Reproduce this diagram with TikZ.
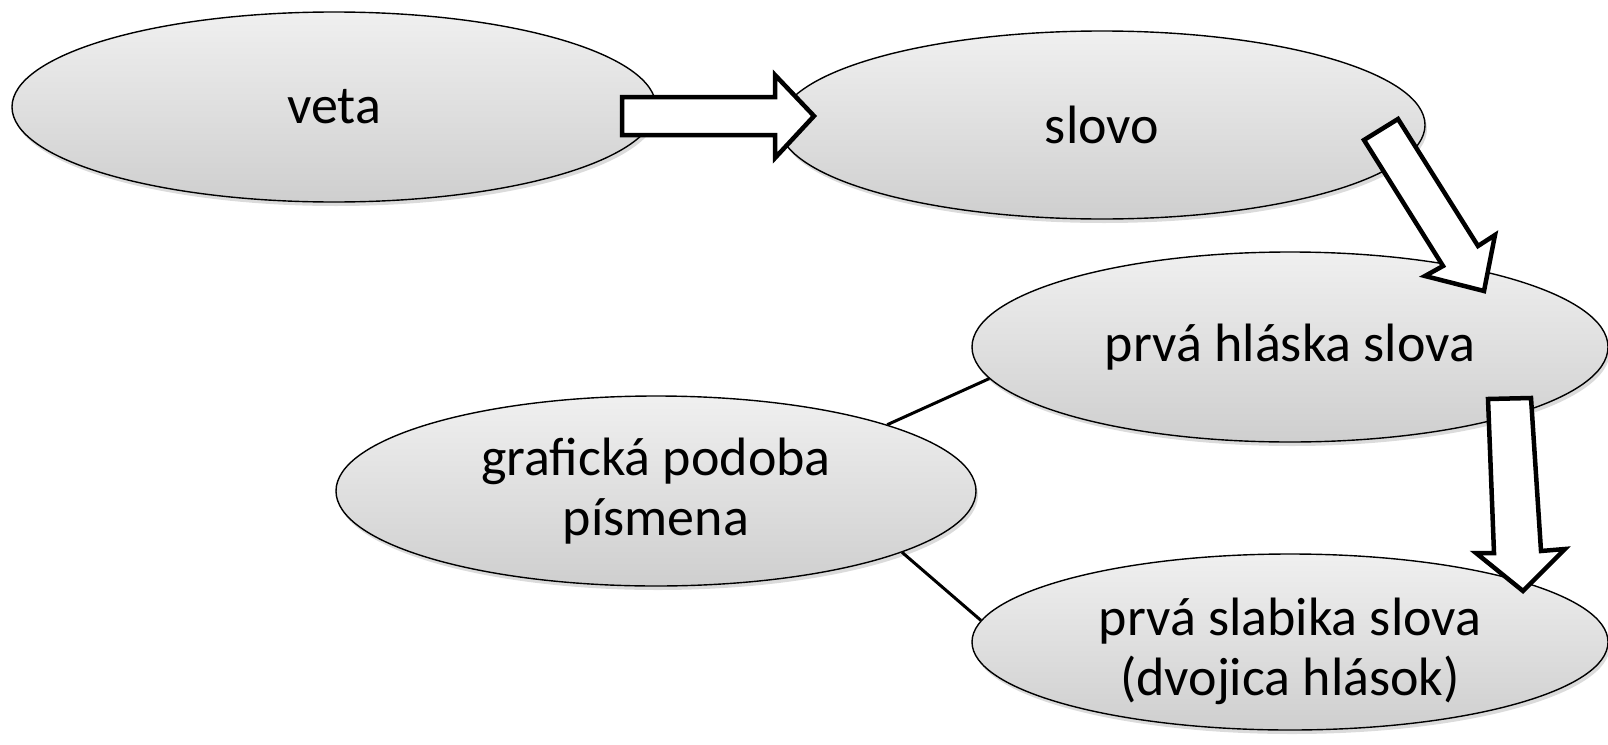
\documentclass[tikz,border=0pt]{standalone}
\usepackage{fontspec}
\setmainfont{Carlito}
\usetikzlibrary{shapes.geometric,shadows}
\tikzset{
  bubble/.style={ellipse, draw=black, line width=1.4pt, inner sep=0pt,
    top color=gray!12, bottom color=gray!38, align=center,
    font=\fontsize{54}{60}\selectfont,
    drop shadow={shadow xshift=2pt, shadow yshift=-4pt, opacity=0.35, fill=gray!80}},
  blockarrow/.style={draw=black, fill=white, line width=4.5pt, line join=miter},
  conn/.style={draw=black, line width=3pt}
}
\begin{document}
\begin{tikzpicture}[x=1pt,y=-1pt]
\useasboundingbox (0,0) rectangle (1608,744);
\node[bubble, minimum width=644pt, minimum height=190pt] (veta) at (334,107) {veta};
\node[bubble, minimum width=646pt, minimum height=188pt] (slovo) at (1102,125) {slovo};
\node[bubble, minimum width=636pt, minimum height=190pt] (hlaska) at (1290,347) {prvá hláska slova};
\node[bubble, minimum width=640pt, minimum height=190pt] (graf) at (656,491) {grafická podoba\\písmena};
\node[bubble, minimum width=636pt, minimum height=176pt, text height=112pt, text depth=6pt] (slabika) at (1290,642) {prvá slabika slova\\(dvojica hlások)};
% connectors
\draw[conn] (graf.16) -- (hlaska.186);
\draw[conn] (graf.-14) -- (slabika.176);
% block arrows
\draw[blockarrow] (622,97) -- (775,97) -- (775,75) -- (814,116) -- (775,158) -- (775,135) -- (622,135) -- cycle;
\draw[blockarrow] (1364,140) -- (1398,119) -- (1478,246) -- (1495,235) -- (1484,291) -- (1425,276) -- (1443,266) -- cycle;
\draw[blockarrow] (1488,399) -- (1531,398) -- (1541,551) -- (1565,549) -- (1523,591) -- (1476,553) -- (1494,553) -- cycle;
\end{tikzpicture}
\end{document}
